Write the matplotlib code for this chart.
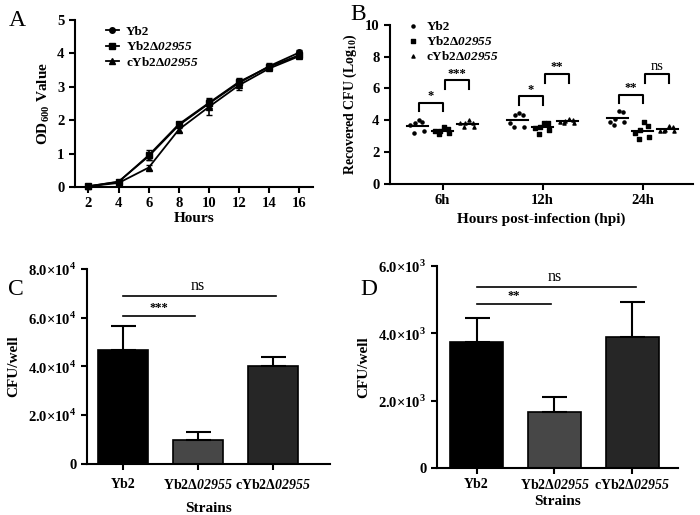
import matplotlib
matplotlib.use("Agg")
import matplotlib.pyplot as plt
from matplotlib.ticker import FixedLocator, FuncFormatter

plt.rcParams["font.family"] = ["Liberation Serif", "DejaVu Serif"]
plt.rcParams["font.weight"] = "bold"
plt.rcParams["mathtext.fontset"] = "custom"
plt.rcParams["mathtext.rm"] = "Liberation Serif:bold"
plt.rcParams["mathtext.bf"] = "Liberation Serif:bold"
# mathtext forces digits in \mathit upright, so italic digits go through \mathsf
plt.rcParams["mathtext.sf"] = "Liberation Serif:italic:bold"
plt.rcParams["axes.linewidth"] = 1.5

# ---- data ----
strains = ["Yb2", r"Yb2Δ$\mathsf{02955}$", r"cYb2Δ$\mathsf{02955}$"]

# panel A: growth curve
hours = [2, 4, 6, 8, 10, 12, 14, 16]
od_yb2 = [0.02, 0.16, 0.92, 1.85, 2.50, 3.12, 3.62, 4.03]
od_yb2_err = [0.02, 0.03, 0.10, 0.06, 0.12, 0.10, 0.08, 0.08]
od_del = [0.02, 0.15, 0.95, 1.88, 2.52, 3.15, 3.60, 3.95]
od_del_err = [0.02, 0.03, 0.15, 0.08, 0.15, 0.12, 0.08, 0.08]
od_comp = [0.02, 0.12, 0.58, 1.72, 2.40, 3.05, 3.55, 3.92]
od_comp_err = [0.02, 0.03, 0.08, 0.06, 0.25, 0.15, 0.06, 0.06]

# panel B: recovered CFU (log10), 6 replicates per group
time_labels = ["6h", "12h", "24h"]
cfu_yb2 = [[4.00, 3.90, 3.80, 3.70, 3.30, 3.20],
           [4.45, 4.30, 4.30, 3.85, 3.60, 3.60],
           [4.55, 4.50, 4.10, 3.90, 3.90, 3.70]]
cfu_del = [[3.55, 3.45, 3.35, 3.30, 3.20, 3.15],
           [3.85, 3.80, 3.60, 3.50, 3.40, 3.15],
           [3.90, 3.65, 3.40, 3.20, 2.95, 2.85]]
cfu_comp = [[4.00, 3.85, 3.80, 3.80, 3.60, 3.60],
            [4.05, 4.00, 3.95, 3.90, 3.85, 3.85],
            [3.65, 3.60, 3.40, 3.30, 3.30, 3.35]]
sig_b = [("*", "***"), ("*", "**"), ("**", "ns")]

# panel C / D: CFU per well
cfu_c = [4.68e4, 0.97e4, 4.00e4]
cfu_c_err = [0.96e4, 0.34e4, 0.37e4]
cfu_d = [3.75e3, 1.65e3, 3.88e3]
cfu_d_err = [0.72e3, 0.47e3, 1.06e3]
bar_colors = ["#000000", "#474747", "#262626"]

tick_fs = 10.5
label_fs = 11

fig = plt.figure(figsize=(7, 5.15), dpi=100)


def style(ax):
    ax.spines["top"].set_visible(False)
    ax.spines["right"].set_visible(False)
    ax.tick_params(direction="out", width=1.5, length=4, labelsize=tick_fs)
    for lab in ax.get_xticklabels() + ax.get_yticklabels():
        lab.set_fontweight("bold")


# ---- A ----
axA = fig.add_axes([0.107, 0.637, 0.34, 0.324])
handles = []
for y, e, m, lab in [(od_yb2, od_yb2_err, "o", strains[0]),
                     (od_del, od_del_err, "s", strains[1]),
                     (od_comp, od_comp_err, "^", strains[2])]:
    c = axA.errorbar(hours, y, yerr=e, marker=m, ms=4, color="black", lw=1.3,
                     capsize=2.5, elinewidth=1.2, label=lab, clip_on=False)
    handles.append(c[0])
axA.set_xlim(1.1, 16.9)
axA.set_ylim(0, 5)
axA.set_xticks(hours)
axA.set_yticks([0, 1, 2, 3, 4, 5])
axA.set_xlabel("Hours", fontsize=label_fs, fontweight="bold", labelpad=1)
axA.set_ylabel(r"OD$_{600}$ Value", fontsize=label_fs, fontweight="bold")
axA.legend(handles, strains, loc="upper left", bbox_to_anchor=(0.08, 1.04),
           frameon=False, fontsize=9.5, handlelength=1.0, handletextpad=0.5,
           labelspacing=0.2)
style(axA)

# ---- B ----
axB = fig.add_axes([0.557, 0.643, 0.433, 0.309])
markers = ["o", "s", "^"]
jitter = [0.05, 0.2, -0.1, -0.3, 0.25, -0.15]
for g in range(3):
    base = g * 4
    for k, data in enumerate([cfu_yb2[g], cfu_del[g], cfu_comp[g]]):
        pos = base + k
        axB.scatter([pos + o for o in jitter], data, marker=markers[k], s=5,
                    color="black", zorder=3,
                    label=strains[k] if g == 0 else None)
        mean = sum(data) / len(data)
        axB.plot([pos - 0.42, pos + 0.42], [mean, mean], color="black", lw=1.5)
    # brackets
    s1, s2 = sig_b[g]
    h1 = [5.1, 5.5, 5.6][g]
    h2 = [6.5, 6.9, 6.9][g]
    x1a, x1b = base + 0.05, base + 1.0
    x2a, x2b = base + 1.1, base + 2.05
    axB.plot([x1a, x1a, x1b, x1b], [h1 - 0.55, h1, h1, h1 - 0.55], color="black", lw=1.5)
    axB.plot([x2a, x2a, x2b, x2b], [h2 - 0.55, h2, h2, h2 - 0.55], color="black", lw=1.5)
    axB.text((x1a + x1b) / 2, h1 + 0.05, s1, ha="center", va="bottom", fontsize=9)
    axB.text((x2a + x2b) / 2, h2 + 0.05, s2, ha="center", va="bottom",
             fontsize=10.5 if s2 == "ns" else 9,
             fontweight="normal" if s2 == "ns" else "bold")
axB.set_xlim(-1.1, 11)
axB.set_ylim(0, 10)
axB.set_xticks([1, 5, 9])
axB.set_xticklabels(time_labels)
axB.set_yticks([0, 2, 4, 6, 8, 10])
axB.set_xlabel("Hours post-infection (hpi)", fontsize=label_fs, fontweight="bold")
axB.set_ylabel(r"Recovered CFU (Log$_{10}$)", fontsize=10, fontweight="bold")
axB.legend(loc="upper left", bbox_to_anchor=(0.02, 1.1), frameon=False,
           fontsize=9.5, handlelength=0.8, handletextpad=0.6, labelspacing=0.15,
           markerscale=1.0)
style(axB)


def bar_panel(rect, vals, errs, ymax, step, exp, sig):
    ax = fig.add_axes(rect)
    xs = list(range(len(vals)))
    ax.bar(xs, vals, width=0.67, color=bar_colors, edgecolor="black", lw=1.2)
    ax.errorbar(xs, vals, yerr=[[0] * len(errs), errs], fmt="none", ecolor="black",
                capsize=9, elinewidth=1.5, capthick=1.5)
    ax.set_ylim(0, ymax)
    ticks = [i * step for i in range(int(round(ymax / step)) + 1)]
    ax.yaxis.set_major_locator(FixedLocator(ticks))
    ax.yaxis.set_major_formatter(FuncFormatter(
        lambda v, p: "0" if v == 0 else r"%.1f×10$^{%d}$" % (v / 10 ** exp, exp)))
    ax.set_xticks(xs)
    ax.set_xticklabels(strains)
    ax.set_xlabel("Strains", fontsize=label_fs, fontweight="bold", labelpad=2)
    ax.set_ylabel("CFU/well", fontsize=label_fs, fontweight="bold", labelpad=6)
    (lo_y, lo_t, lo_x2), (hi_y, hi_t) = sig
    ax.plot([0, lo_x2], [lo_y, lo_y], color="black", lw=1.2)
    ax.text(0.48, lo_y + ymax * 0.01, lo_t, ha="center", va="bottom", fontsize=9)
    ax.plot([0, 2.04], [hi_y, hi_y], color="black", lw=1.2)
    ax.text(1.0, hi_y + ymax * 0.01, hi_t, ha="center", va="bottom", fontsize=11.5,
            fontweight="normal")
    style(ax)
    ax.tick_params(axis="x", labelsize=10)
    return ax


axC = bar_panel([0.124, 0.099, 0.347, 0.379], cfu_c, cfu_c_err, 8e4, 2e4, 4,
                ((6.05e4, "***", 0.96), (6.87e4, "ns")))
axC.set_xlim(-0.48, 2.76)
axC.tick_params(axis="x", pad=6)
axC.xaxis.labelpad = 7

axD = bar_panel([0.624, 0.0913, 0.344, 0.392], cfu_d, cfu_d_err, 6e3, 2e3, 3,
                ((4.87e3, "**", 0.96), (5.39e3, "ns")))
axD.set_xlim(-0.51, 2.58)

# panel letters
for lab, x, y in [("A", 0.012, 0.961), ("B", 0.5, 0.971),
                  ("C", 0.012, 0.437), ("D", 0.515, 0.437)]:
    fig.text(x, y, lab, fontsize=17, fontweight="normal", ha="left", va="center")

fig.savefig("out.png", dpi=100)
